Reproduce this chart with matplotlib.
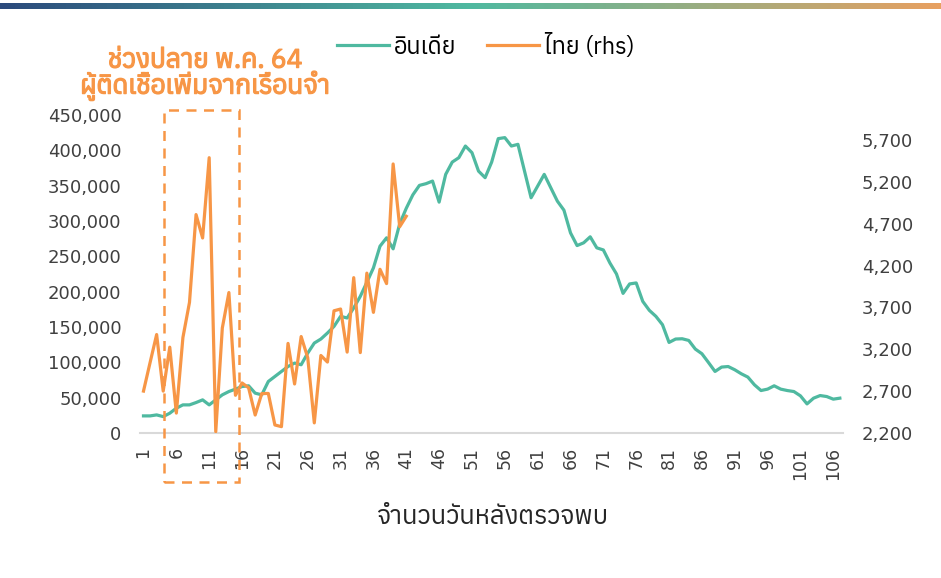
import numpy as np
import matplotlib
matplotlib.use('Agg')
import matplotlib.pyplot as plt
import matplotlib.patheffects as pe
from matplotlib import font_manager
from matplotlib.ft2font import FT2Font
from matplotlib.patches import Rectangle
from matplotlib.ticker import FuncFormatter, FixedLocator

# --- data: daily new cases by days after detection ---
india = [24100, 24100, 25500, 23100, 27900, 35000, 39700, 39700, 43000, 46800,
         39700, 46800, 53900, 58600, 62000, 65700, 66700, 56300, 53900, 72800,
         79900, 87000, 94000, 98900, 96500, 113000, 127200, 132900, 141400, 150800,
         165000, 162700, 176900, 193300, 213200, 233600, 264300, 276200, 260600, 296000,
         318000, 337000, 350400, 352800, 356500, 326700, 366000, 383400, 389600, 406100,
         396700, 370600, 361300, 383400, 416600, 418000, 406100, 408500, 370600, 332900,
         349400, 366000, 347000, 328100, 315300, 283200, 265200, 269100, 277600, 262000,
         259000, 240500, 225000, 197500, 210900, 212300, 186200, 173500, 165000, 153200,
         128100, 132900, 133300, 130900, 118700, 112100, 99700, 87000, 93200, 94000,
         89400, 83700, 79000, 68100, 60000, 62000, 66700, 62000, 60000, 58600,
         52500, 41100, 49200, 52900, 51500, 47800, 49200]
thai = [2700, 3040, 3376, 2700, 3225, 2437, 3340, 3760, 4810, 4530,
        5490, 2215, 3455, 3878, 2650, 2797, 2740, 2414, 2670, 2672,
        2295, 2275, 3270, 2785, 3352, 3100, 2320, 3126, 3047, 3660,
        3681, 3166, 4056, 3160, 4110, 3641, 4156, 3985, 5415, 4665, 4790]
days_india = np.arange(1, len(india) + 1)
days_thai = np.arange(1, len(thai) + 1)
left_ticks = np.arange(0, 450001, 50000)
right_ticks = np.arange(2200, 5701, 500)
x_ticks = np.arange(1, 107, 5)
box_start, box_end = 4.1, 15.5   # prison outbreak window

TEAL = '#4FB9A0'
ORANGE = '#F79646'


def thai_font():
    names = []
    for f in font_manager.fontManager.ttflist:
        try:
            if 0x0E01 in FT2Font(f.fname).get_charmap() and f.name not in names:
                names.append(f.name)
        except Exception:
            pass
    if 'Anuphan' in names:
        return 'Anuphan'
    return names[0] if names else 'DejaVu Sans'


THAI = thai_font()
plt.rcParams['font.family'] = ['DejaVu Sans', THAI]
thai_fam = [THAI, 'DejaVu Sans']

fig = plt.figure(figsize=(9.41, 5.78), dpi=100)
ax = fig.add_axes([0.149, 0.251, 0.747, 0.550])
ax2 = ax.twinx()

ax.plot(days_india, india, color=TEAL, lw=2.3, label='อินเดีย', zorder=3)
ax2.plot(days_thai, thai, color=ORANGE, lw=2.3, label='ไทย (rhs)', zorder=3)

ax.set_xlim(0.5, 107.5)
ax.set_ylim(0, 450000)
ax2.set_ylim(2200, 6000)
ax.yaxis.set_major_locator(FixedLocator(left_ticks))
ax2.yaxis.set_major_locator(FixedLocator(right_ticks))
fmt = FuncFormatter(lambda v, p: f'{int(v):,}')
ax.yaxis.set_major_formatter(fmt)
ax2.yaxis.set_major_formatter(fmt)
ax.set_xticks(x_ticks)
ax.set_xticklabels([str(d) for d in x_ticks], rotation=90)

for a in (ax, ax2):
    for s in a.spines.values():
        s.set_visible(False)
    a.tick_params(length=0, labelsize=13, colors='#404040')
ax.spines['bottom'].set_visible(True)
ax.spines['bottom'].set_color('#d9d9d9')
ax.spines['bottom'].set_linewidth(1.5)
ax.tick_params(axis='y', pad=13.5)
ax2.tick_params(axis='y', pad=13.5)
ax.tick_params(axis='x', pad=10, labelsize=12.5)

ax.set_xlabel('จำนวนวันหลังตรวจพบ', fontsize=18.5, color='#262626', labelpad=17,
              family=thai_fam)

# dashed highlight box
rect = Rectangle((box_start, -69500), box_end - box_start, 526300,
                 fill=False, ls=(0, (4, 3)), lw=1.8, ec=ORANGE, clip_on=False, zorder=4)
ax.add_patch(rect)

bold = [pe.withStroke(linewidth=0.9, foreground=ORANGE)]
fig.text(0.218, 0.896, 'ช่วงปลาย พ.ค. 64', color=ORANGE, fontsize=19,
         ha='center', va='center', family=thai_fam, path_effects=bold)
fig.text(0.218, 0.851, 'ผู้ติดเชื้อเพิ่มจากเรือนจำ', color=ORANGE, fontsize=19,
         ha='center', va='center', family=thai_fam, path_effects=bold)

h1, l1 = ax.get_legend_handles_labels()
h2, l2 = ax2.get_legend_handles_labels()
fig.legend(h1 + h2, l1 + l2, loc='center', bbox_to_anchor=(0.516, 0.92), ncol=2,
           frameon=False, prop={'family': thai_fam, 'size': 17},
           handlelength=2.2, handletextpad=0.2, columnspacing=1.3)

# top gradient band
band = fig.add_axes([0.0, 0.985, 1.0, 0.01])
grad = np.linspace(0, 1, 256).reshape(1, -1)
cmap = matplotlib.colors.LinearSegmentedColormap.from_list(
    'band', ['#2B4A7C', '#4FB9A0', '#E8A060'])
band.imshow(grad, aspect='auto', cmap=cmap)
band.axis('off')

fig.savefig('out.png', dpi=100)
